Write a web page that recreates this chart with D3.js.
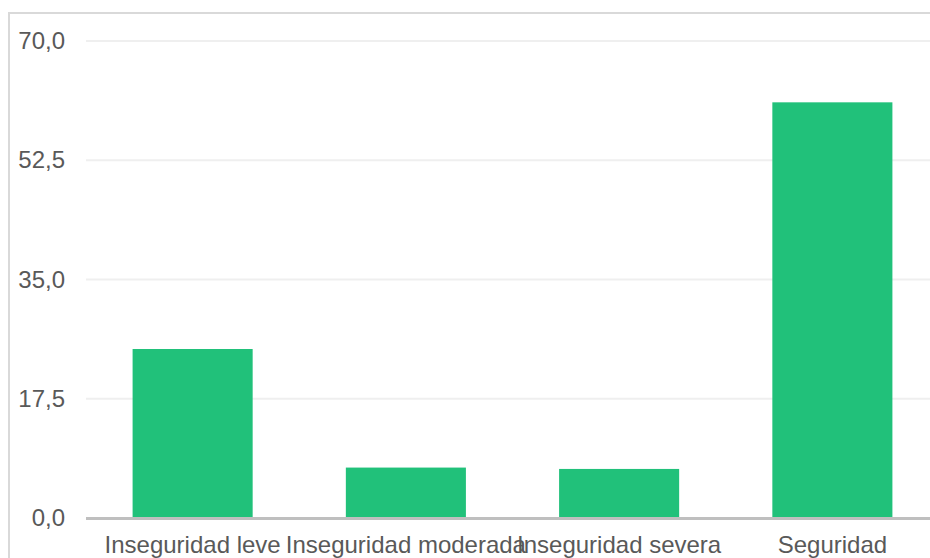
<!DOCTYPE html>
<html><head><meta charset="utf-8">
<script src="https://cdn.jsdelivr.net/npm/d3@7"></script>
<style>html,body{margin:0;padding:0;background:#fff;overflow:hidden}</style>
</head><body>
<svg id="c" width="930" height="558"></svg>
<script>
const categories = ["Inseguridad leve", "Inseguridad moderada", "Inseguridad severa", "Seguridad"];
const values = [24.8, 7.4, 7.2, 61.0];
const yTicks = [0, 17.5, 35, 52.5, 70];
const yTickLabels = ["0,0", "17,5", "35,0", "52,5", "70,0"];

const svg = d3.select("#c");
const font = "'Liberation Sans', Arial, sans-serif";

// outer frame
svg.append("rect").attr("x", 9).attr("y", 13).attr("width", 930).attr("height", 560)
  .attr("fill", "none").attr("stroke", "#d9d9d9").attr("stroke-width", 2);

const x = d3.scaleBand().domain(categories).range([86, 939]).paddingInner(0.437).paddingOuter(0.2185);
const y = d3.scaleLinear().domain([0, 70]).range([518, 41]);

// gridlines
svg.append("g").selectAll("line").data(yTicks.filter(d => d > 0)).join("line")
  .attr("x1", 86).attr("x2", 940)
  .attr("y1", d => y(d)).attr("y2", d => y(d))
  .attr("stroke", "#efefef").attr("stroke-width", 2);

// y tick labels
const yAxis = d3.axisLeft(y).tickValues(yTicks).tickFormat((d, i) => yTickLabels[i]).tickSize(0).tickPadding(0);
const ga = svg.append("g").attr("transform", "translate(65,0)").call(yAxis);
ga.select(".domain").remove();
ga.selectAll("text").attr("font-family", font).attr("font-size", 24).attr("fill", "#595959");

// bars
svg.append("g").selectAll("rect").data(values).join("rect")
  .attr("x", (d, i) => x(categories[i]))
  .attr("width", x.bandwidth())
  .attr("y", d => y(d))
  .attr("height", d => y(0) - y(d))
  .attr("fill", "#21c17a");

// baseline
svg.append("line").attr("x1", 86).attr("x2", 940).attr("y1", y(0) + 0.5).attr("y2", y(0) + 0.5)
  .attr("stroke", "#bfbfbf").attr("stroke-width", 3);

// x labels
const xAxis = d3.axisBottom(x).tickSize(0).tickPadding(0);
const gx = svg.append("g").attr("transform", "translate(0,536)").call(xAxis);
gx.select(".domain").remove();
gx.selectAll("text").attr("font-family", font).attr("font-size", 24).attr("fill", "#595959").attr("dy", "0.71em");
</script>
</body></html>
